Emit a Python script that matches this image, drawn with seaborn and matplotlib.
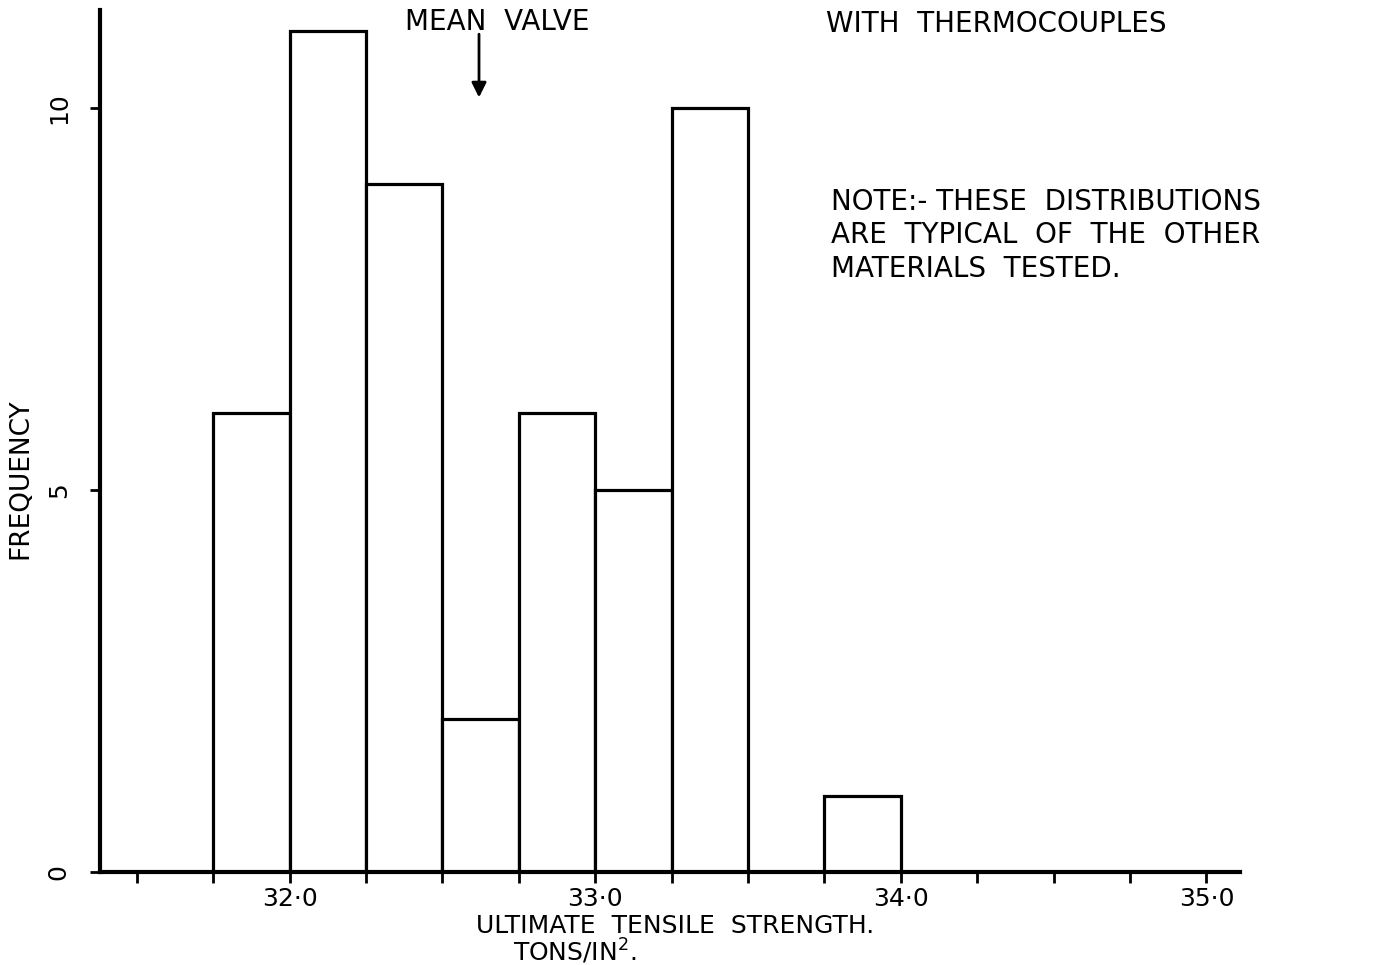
import numpy as np
import pandas as pd
import matplotlib
matplotlib.use("Agg")
import matplotlib.pyplot as plt
import seaborn as sns

# Data
bin_edges = [31.75, 32.0, 32.25, 32.5, 32.75, 33.0, 33.25, 33.5, 33.75, 34.0]
counts = [6, 11, 9, 2, 6, 5, 10, 0, 1]
x_ticks = [32.0, 33.0, 34.0, 35.0]
x_tick_labels = ["32·0", "33·0", "34·0", "35·0"]
y_ticks = [0, 5, 10]
y_tick_labels = ["0", "5", "10"]
mean_value = 32.62

centers = [(a + b) / 2 for a, b in zip(bin_edges[:-1], bin_edges[1:])]
df = pd.DataFrame({"uts": centers, "freq": counts})

sns.set_style("white")
plt.rcParams['font.family'] = ['DejaVu Sans']
plt.rcParams['text.color'] = 'black'
plt.rcParams['xtick.color'] = 'black'
plt.rcParams['ytick.color'] = 'black'
plt.rcParams['axes.labelcolor'] = 'black'

fig = plt.figure(figsize=(13.74, 9.65), dpi=100)
ax = fig.add_axes([0.0728, 0.0964, 0.8297, 0.8932])

sns.histplot(data=df, x="uts", weights="freq", bins=bin_edges, ax=ax,
             color="white", edgecolor="black", linewidth=2.3, alpha=1, stat="count")

ax.set_xlim(31.38, 35.11)
ax.set_ylim(0, 11.28)

for s in ["top", "right"]:
    ax.spines[s].set_visible(False)
for s in ["left", "bottom"]:
    ax.spines[s].set_linewidth(3)
    ax.spines[s].set_color("black")

ax.set_xticks(x_ticks)
ax.set_xticklabels(x_tick_labels, fontsize=18)
ax.set_xticks(np.arange(31.5, 35.01, 0.25), minor=True)
ax.tick_params(axis="x", which="both", bottom=True, direction="out", length=8, width=2, pad=3)
ax.set_yticks(y_ticks)
ax.set_yticklabels(y_tick_labels, fontsize=18, rotation=90, va="center")
ax.tick_params(axis="y", which="major", left=True, direction="out", length=7, width=2, pad=14)

ax.set_xlabel("")
ax.set_ylabel("")
fig.text(0.0146, 0.504, "FREQUENCY", fontsize=19, rotation=90, ha="center", va="center")
fig.text(0.491, 0.0405, "ULTIMATE  TENSILE  STRENGTH.", fontsize=18, ha="center", va="center")
fig.text(0.418, 0.0135, "TONS/IN$^2$.", fontsize=18, ha="center", va="center")

ax.annotate("", xy=(mean_value, 10.1), xytext=(mean_value, 11.0),
            arrowprops=dict(arrowstyle="-|>", color="black", lw=2, mutation_scale=22))
fig.text(0.3617, 0.977, "MEAN  VALVE", fontsize=20, ha="center", va="center")
fig.text(0.601, 0.975, "WITH  THERMOCOUPLES", fontsize=20, ha="left", va="center")
fig.text(0.605, 0.756, "NOTE:- THESE  DISTRIBUTIONS\nARE  TYPICAL  OF  THE  OTHER\nMATERIALS  TESTED.",
         fontsize=20, ha="left", va="center", linespacing=1.25)

fig.savefig("out.png", dpi=100)
